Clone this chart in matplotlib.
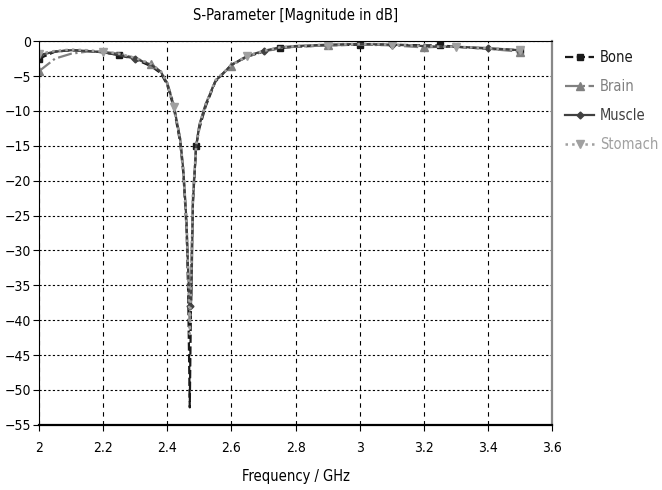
import matplotlib.pyplot as plt

freq = [2.0, 2.05, 2.1, 2.15, 2.2, 2.25, 2.3, 2.35, 2.38, 2.4, 2.42, 2.44, 2.45, 2.46, 2.465,
        2.47, 2.475, 2.48, 2.49, 2.5, 2.52, 2.55, 2.6, 2.65, 2.7, 2.75, 2.8, 2.9, 3.0, 3.1,
        3.2, 3.25, 3.3, 3.4, 3.5]

bone = [-2.5, -1.5, -1.3, -1.4, -1.6, -2.0, -2.6, -3.6, -4.6, -6.3, -9.5, -14.5, -19, -27, -36,
        -52.5, -33, -23, -15, -12.5, -9.3, -5.8, -3.4, -2.2, -1.5, -1.0, -0.8, -0.6, -0.5, -0.5,
        -0.6, -0.6, -0.8, -1.1, -1.3]
brain = [-4.3, -2.5, -1.8, -1.5, -1.5, -1.8, -2.4, -3.3, -4.4, -6.0, -9.0, -14, -18.5, -26, -33,
         -40, -32, -22, -15, -12, -9, -5.7, -3.5, -2.2, -1.5, -1.0, -0.8, -0.6, -0.5, -0.6,
         -0.9, -0.8, -0.8, -1.1, -1.5]
muscle = [-2.0, -1.5, -1.3, -1.4, -1.6, -2.0, -2.5, -3.4, -4.4, -6.1, -9.2, -14, -18.5, -26, -33,
          -38, -37, -23, -15, -12, -9, -5.7, -3.4, -2.1, -1.4, -0.9, -0.7, -0.5, -0.4, -0.5,
          -0.7, -0.8, -0.8, -1.0, -1.3]
stomach = [-1.8, -1.4, -1.2, -1.3, -1.5, -1.8, -2.4, -3.3, -4.3, -6.0, -9.5, -14, -18.5, -26, -33,
           -42, -33, -22, -15, -12, -9, -5.6, -3.4, -2.1, -1.4, -0.9, -0.7, -0.5, -0.4, -0.5,
           -0.7, -0.8, -0.8, -1.0, -1.3]

plt.rcParams['font.family'] = ['DejaVu Sans']
plt.rcParams['font.stretch'] = 'condensed'

fig = plt.figure(figsize=(6.62, 4.9), dpi=100)
ax = fig.add_axes([0.059, 0.133, 0.775, 0.783])

ax.plot(freq, bone, color='#1a1a1a', linestyle='--', lw=1.6, marker='s', ms=5,
        markevery=[0, 5, 18, 25, 28, 31, 34], label='Bone')
ax.plot(freq, brain, color='#808080', linestyle='-.', lw=1.6, marker='^', ms=6,
        markevery=[0, 7, 22, 27, 30, 34], label='Brain')
ax.plot(freq, muscle, color='#404040', linestyle='-', lw=1.6, marker='D', ms=3.5,
        markevery=[0, 6, 15, 24, 29, 33], label='Muscle')
ax.plot(freq, stomach, color='#a0a0a0', linestyle=':', lw=1.8, marker='v', ms=6,
        markevery=[0, 4, 10, 23, 27, 29, 32, 34], label='Stomach')

ax.set_xlim(2, 3.6)
ax.set_ylim(-55, 0)
ax.set_xticks([2, 2.2, 2.4, 2.6, 2.8, 3, 3.2, 3.4, 3.6])
ax.set_xticklabels(['2', '2.2', '2.4', '2.6', '2.8', '3', '3.2', '3.4', '3.6'])
ax.set_yticks(range(-55, 1, 5))
ax.tick_params(labelsize=10, length=4, direction='out', pad=2)
ax.tick_params(axis='x', pad=8)
ax.xaxis.grid(True, color='black', linestyle=(0, (4, 4)), lw=0.8)
ax.yaxis.grid(True, color='black', linestyle=(0, (2, 2)), lw=0.8)

ax.spines['bottom'].set_linewidth(1.6)
ax.spines['right'].set_color('#888888')
ax.spines['right'].set_linewidth(1.6)

ax.set_title('S-Parameter [Magnitude in dB]', fontsize=10.5, pad=15)
ax.set_xlabel('Frequency / GHz', fontsize=10.5, labelpad=10)

ax.legend(loc='upper left', bbox_to_anchor=(1.0, 1.01), frameon=False, fontsize=10.5,
          labelcolor='linecolor', handlelength=2.0, handletextpad=0.4, labelspacing=0.95)

fig.savefig('out.png', dpi=100)
